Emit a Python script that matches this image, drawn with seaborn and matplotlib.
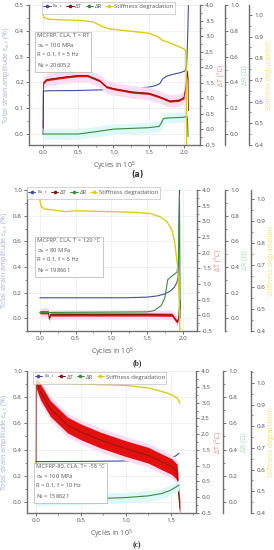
import numpy as np
import matplotlib
matplotlib.use("Agg")
import matplotlib.pyplot as plt
from matplotlib.lines import Line2D
from matplotlib.ticker import MultipleLocator, AutoMinorLocator, FormatStrFormatter
import seaborn as sns

# ---- panel (a): RT, 100 MPa ----
A_EPS_X = [0.0, 0.004, 0.1, 0.5, 0.9, 1.0, 1.3, 1.5, 1.6, 1.66, 1.70, 1.75, 1.85, 1.95, 2.02, 2.04, 2.055, 2.065]
A_EPS_Y = [0.0, 0.167, 0.168, 0.169, 0.172, 0.175, 0.178, 0.182, 0.188, 0.196, 0.214, 0.224, 0.232, 0.238, 0.245, 0.27, 0.38, 0.5]
A_DT_X = [0.0, 0.004, 0.05, 0.33, 0.5, 0.63, 0.8, 0.9, 1.0, 1.27, 1.5, 1.65, 1.8, 1.93, 2.0, 2.03, 2.05, 2.06, 2.065]
A_DT_Y = [0.05, 1.5, 1.6, 1.69, 1.73, 1.73, 1.57, 1.37, 1.31, 1.2, 1.16, 1.05, 0.91, 0.94, 1.02, 1.4, 1.87, 1.6, 0.6]
A_DR_X = [0.0, 0.5, 0.75, 0.94, 1.0, 1.5, 1.65, 1.68, 1.71, 1.8, 2.0, 2.03, 2.05, 2.06]
A_DR_Y = [0.0, 0.0, 0.018, 0.033, 0.038, 0.049, 0.059, 0.085, 0.12, 0.125, 0.13, 0.136, 0.13, -0.02]
A_ST_X = [0.0, 0.01, 0.09, 0.57, 0.71, 0.85, 0.94, 1.27, 1.5, 1.63, 1.7, 1.79, 2.0, 2.03, 2.04]
A_ST_Y = [1.0, 0.988, 0.98, 0.974, 0.968, 0.946, 0.936, 0.924, 0.916, 0.9, 0.882, 0.873, 0.844, 0.832, 0.4]

# ---- panel (b): 120 °C, 80 MPa ----
B_EPS_X = [0.0, 1.2, 1.5, 1.65, 1.75, 1.82, 1.88, 1.92, 1.94, 1.955]
B_EPS_Y = [0.16, 0.16, 0.165, 0.175, 0.19, 0.21, 0.24, 0.28, 0.35, 1.0]
B_DT_X = [0.0, 0.12, 0.13, 0.15, 0.5, 1.0, 1.5, 1.85, 1.92, 1.94, 1.96, 1.97]
B_DT_Y = [0.1, 0.1, -0.1, 0.03, 0.03, 0.03, 0.03, 0.02, -0.2, -0.1, 0.5, 0.2]
B_DR_X = [0.0, 1.5, 1.6, 1.7, 1.75, 1.79, 1.85, 1.92, 1.94, 1.955, 1.965]
B_DR_Y = [0.045, 0.05, 0.06, 0.1, 0.16, 0.3, 0.33, 0.36, 0.45, 0.95, 0.0]
B_ST_X = [0.0, 0.02, 0.07, 0.37, 0.5, 1.3, 1.54, 1.68, 1.78, 1.85, 1.89, 1.93, 1.95, 1.96]
B_ST_Y = [0.995, 0.965, 0.955, 0.943, 0.947, 0.94, 0.935, 0.92, 0.897, 0.86, 0.8, 0.69, 0.556, 0.4]

# ---- panel (c): -55 °C, 160 MPa ----
C_EPS_X = [0.0, 0.5, 1.0, 1.3, 1.5, 1.56, 1.59]
C_EPS_Y = [0.308, 0.309, 0.313, 0.32, 0.333, 0.354, 0.372]
C_DT_X = [0.0, 0.003, 0.05, 0.16, 0.35, 0.5, 0.72, 1.0, 1.25, 1.4, 1.51, 1.57, 1.59, 1.6]
C_DT_Y = [-0.1, 3.7, 3.34, 2.81, 2.29, 2.07, 1.81, 1.54, 1.33, 1.12, 0.97, 0.8, -0.04, -0.36]
C_DR_X = [0.0, 0.5, 1.0, 1.25, 1.4, 1.5, 1.56, 1.59]
C_DR_Y = [0.01, 0.02, 0.033, 0.046, 0.064, 0.09, 0.115, 0.13]
C_ST_X = [0.0, 0.03, 0.16, 0.5, 1.0, 1.25, 1.4, 1.51, 1.57, 1.6]
C_ST_Y = [1.03, 1.008, 1.0, 0.995, 0.989, 0.977, 0.961, 0.946, 0.93, 0.907]

# scatter width of the dT signal (°C) and its halo, per panel
DT_NOISE = [0.035, 0.05, 0.25]
DT_HALO = [0.2, 0.15, 0.38]
DR_HALO = [0.04, 0.0, 0.04]

BOX_TEXT = [
    "MCFRP, CLA, T = RT\nσ$_\\mathregular{a}$ = 100 MPa\nR = 0.1, f = 5 Hz\nN$_\\mathregular{f}$ = 206052",
    "MCFRP, CLA, T = 120 °C\nσ$_\\mathregular{a}$ = 80 MPa\nR = 0.1, f = 5 Hz\nN$_\\mathregular{f}$ = 198661",
    "MCFRP-80, CLA, T= -55 °C\nσ$_\\mathregular{a}$ = 160 MPa\nR = 0.1, f = 10 Hz\nN$_\\mathregular{f}$ = 158621",
]
PANEL_LABELS = ["(a)", "(b)", "(c)"]

C_EPS = "#3f4f9f"
C_DT = "#7a1c0c"
C_DT_BAND = "#e41010"
C_DR = "#3b8c3b"
C_ST = "#dccc18"
SPINE = "#707070"

sns.set_theme(style="ticks")
plt.rcParams["font.family"] = ["Open Sans", "DejaVu Sans"]
plt.rcParams["mathtext.fontset"] = "custom"
plt.rcParams["mathtext.rm"] = "Open Sans"
plt.rcParams["mathtext.it"] = "Open Sans:italic"
FS = 4.5


def style_axis(a, side, step, ylim, label, lcolor, pos=None):
    a.set_ylim(*ylim)
    a.yaxis.set_major_locator(MultipleLocator(step))
    a.yaxis.set_minor_locator(AutoMinorLocator(2))
    a.yaxis.set_major_formatter(FormatStrFormatter("%.1f"))
    for s in a.spines.values():
        s.set_visible(False)
    a.spines[side].set_visible(True)
    a.spines[side].set_color(SPINE)
    a.spines[side].set_linewidth(1.0)
    if pos is not None:
        a.spines[side].set_position(("axes", pos))
    a.tick_params(axis="y", which="major", length=2.2, width=0.7, colors=SPINE,
                  labelsize=FS, pad=1.5, labelcolor="#505050")
    a.tick_params(axis="y", which="minor", length=1.2, width=0.6, colors=SPINE)
    a.set_ylabel(label, color=lcolor, fontsize=5, labelpad=2)


def line(a, x, y, color, lw=0.8):
    sns.lineplot(x=x, y=y, ax=a, color=color, lw=lw, estimator=None,
                 sort=False, legend=False)


def draw_panel(fig, i, rect, eps, dt, dr, st, xlim, main_ylim, main_step,
               dr_ylim, st_ylim, dr_pos, st_pos, leg_x, leg_y, box_xy, lab_y):
    ax = fig.add_axes(rect)
    ax.set_facecolor("white")
    ax.set_xlim(*xlim)
    ax.xaxis.set_major_locator(MultipleLocator(0.5))
    ax.xaxis.set_minor_locator(AutoMinorLocator(2))
    ax.xaxis.set_major_formatter(FormatStrFormatter("%.1f"))
    ax.grid(True, which="major", color="#ececec", lw=0.5)
    style_axis(ax, "left", main_step, main_ylim,
               "Total strain amplitude ε$_\\mathregular{a,t}$ (%)", "#a9aed6")
    ax.spines["bottom"].set_visible(True)
    ax.spines["bottom"].set_color(SPINE)
    ax.spines["bottom"].set_linewidth(1.0)
    ax.tick_params(axis="x", which="major", length=2.2, width=0.7, colors=SPINE,
                   labelsize=FS, pad=1.5, labelcolor="#505050")
    ax.tick_params(axis="x", which="minor", length=1.2, width=0.6, colors=SPINE)
    ax.set_xlabel("Cycles in 10$^\\mathregular{5}$", fontsize=5, color="#606060", labelpad=3)
    line(ax, eps[0], eps[1], C_EPS)

    ax2 = ax.twinx()
    style_axis(ax2, "right", 0.5, (-0.5, 4.0), "ΔT (°C)", "#f08a7a")
    dx, dy = np.array(dt[0]), np.array(dt[1])
    ax2.fill_between(dx, dy - DT_HALO[i], dy + DT_HALO[i], color="#fcdcf2", lw=0)
    ax2.fill_between(dx, dy - DT_NOISE[i], dy + DT_NOISE[i], color=C_DT_BAND, lw=0)
    line(ax2, dt[0], dt[1], C_DT, lw=0.6)

    ax3 = ax.twinx()
    style_axis(ax3, "right", 0.2, dr_ylim, "ΔR (Ω)", "#a8dcb0", pos=dr_pos)
    rx, ry = np.array(dr[0]), np.array(dr[1])
    if DR_HALO[i] > 0:
        ax3.fill_between(rx, ry - DR_HALO[i], ry + DR_HALO[i], color="#dcf8f8", lw=0)
    line(ax3, dr[0], dr[1], C_DR)

    ax4 = ax.twinx()
    style_axis(ax4, "right", 0.1, st_ylim, "Stiffness degradation", "#efe27a", pos=st_pos)
    line(ax4, st[0], st[1], C_ST, lw=1.0)

    handles = [
        Line2D([], [], color=C_EPS, marker="o", ms=1.6, lw=0.7),
        Line2D([], [], color=C_DT, marker="o", ms=1.6, lw=0.7, mfc=C_DT_BAND),
        Line2D([], [], color=C_DR, marker="o", ms=1.6, lw=0.7),
        Line2D([], [], color=C_ST, marker="o", ms=1.6, lw=0.7),
    ]
    labels = ["ε$_\\mathregular{a,t}$", "ΔT", "ΔR", "Stiffness degradation"]
    leg = ax4.legend(handles, labels, loc="upper center", bbox_to_anchor=(leg_x, leg_y),
                     ncol=4, fontsize=4.3, frameon=True, handlelength=1.2,
                     handletextpad=0.3, columnspacing=0.6, borderpad=0.25,
                     fancybox=False, borderaxespad=0)
    leg.get_frame().set_edgecolor("#b0b0b0")
    leg.get_frame().set_linewidth(0.5)
    for t in leg.get_texts():
        t.set_color("#555555")

    ax4.text(box_xy[0], box_xy[1], BOX_TEXT[i], transform=ax4.transAxes,
             fontsize=4.2, color="#555555", va="top", ha="left", linespacing=1.6,
             bbox=dict(boxstyle="square,pad=0.35", fc="white", ec="#b0b0b0", lw=0.5))

    fam = ["DejaVu Sans"] if i == 0 else ["Liberation Serif"]
    fig.text(0.5, lab_y, PANEL_LABELS[i], ha="center", va="center",
             fontsize=5.5, fontweight="bold", color="#333333", family=fam)


fig = plt.figure(figsize=(2.74, 5.5), dpi=100)
fig.patch.set_facecolor("white")

draw_panel(fig, 0, [0.106, 0.7364, 0.624, 0.2545],
           (A_EPS_X, A_EPS_Y), (A_DT_X, A_DT_Y), (A_DR_X, A_DR_Y), (A_ST_X, A_ST_Y),
           (-0.2, 2.23), (-0.042, 0.5), 0.1, (-0.085, 1.0), (0.4, 1.046),
           1.146, 1.288, 0.465, 1.025, (0.045, 0.805), 1 - 175 / 550)
draw_panel(fig, 1, [0.0985, 0.398, 0.6204, 0.2564],
           (B_EPS_X, B_EPS_Y), (B_DT_X, B_DT_Y), (B_DR_X, B_DR_Y), (B_ST_X, B_ST_Y),
           (-0.18, 2.2), (-0.1, 1.0), 0.2, (-0.1, 1.0), (0.4, 1.041),
           1.165, 1.318, 0.39, 1.02, (0.06, 0.665), 1 - 363 / 550)
draw_panel(fig, 2, [0.0985, 0.0673, 0.617, 0.258],
           (C_EPS_X, C_EPS_Y), (C_DT_X, C_DT_Y), (C_DR_X, C_DR_Y), (C_ST_X, C_ST_Y),
           (-0.1, 1.78), (-0.085, 1.0), 0.2, (-0.085, 1.0), (0.4, 1.055),
           1.16, 1.325, 0.43, 0.995, (0.055, 0.35), 1 - 545 / 550)

fig.savefig("out.png", dpi=100, facecolor="white")
